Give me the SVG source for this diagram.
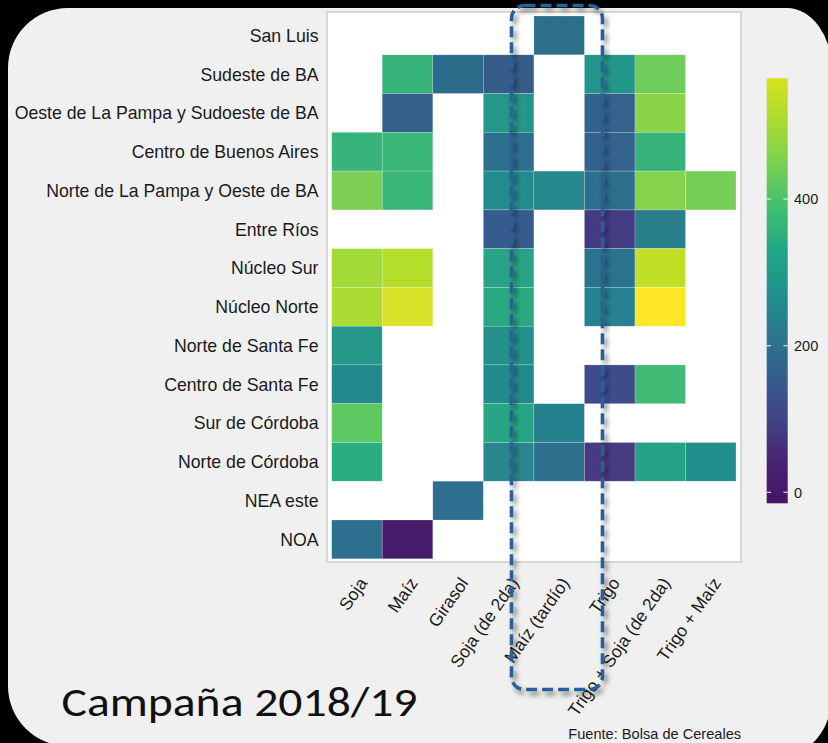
<svg xmlns="http://www.w3.org/2000/svg" width="828" height="743" viewBox="0 0 828 743">
<defs>
<style>
.ylab{font-family:"Liberation Sans",Arial,sans-serif;font-size:17.7px;fill:#1a1a1a;text-anchor:end}
.xlab{font-family:"Liberation Sans",Arial,sans-serif;font-size:17.5px;fill:#1a1a1a;text-anchor:end}
.cb{font-family:"Liberation Sans",Arial,sans-serif;font-size:14.5px;fill:#1a1a1a}
.t{stroke:#ffffff;stroke-opacity:0.35;stroke-width:0.6}
.tick{stroke:#ffffff;stroke-width:1.2;stroke-opacity:0.8}
</style>
<linearGradient id="vir" x1="0" y1="1" x2="0" y2="0">
<stop offset="0" stop-color="#471365"/>
<stop offset="0.1" stop-color="#482475"/>
<stop offset="0.2" stop-color="#414487"/>
<stop offset="0.3" stop-color="#355f8d"/>
<stop offset="0.4" stop-color="#2a788e"/>
<stop offset="0.5" stop-color="#21918c"/>
<stop offset="0.6" stop-color="#22a884"/>
<stop offset="0.7" stop-color="#44bf70"/>
<stop offset="0.8" stop-color="#7ad151"/>
<stop offset="0.9" stop-color="#a9db33"/>
<stop offset="1" stop-color="#d6e21c"/>
</linearGradient>
<filter id="shadow" x="-20%" y="-5%" width="140%" height="110%">
<feDropShadow dx="3" dy="4" stdDeviation="2.5" flood-color="#000000" flood-opacity="0.5"/>
</filter>
</defs>
<rect x="0" y="0" width="828" height="743" fill="#000000"/>
<path d="M8,68 A60,60 0 0 1 68,8 L787,8 A45,62 0 0 1 832,70 L831,700 A60,60 0 0 1 771,760 L68,746 A60,60 0 0 1 8,686 Z" fill="#f0f0f0"/>
<g id="panel">
<rect x="327" y="12" width="414" height="550" fill="#ffffff" stroke="#cccccc" stroke-width="1.5"/>
</g>
<g id="tiles">
<rect class="t" x="533.9" y="16" width="50.5" height="38.8" fill="#2d6f8a"/>
<rect class="t" x="382.2" y="54.8" width="50.6" height="38.7" fill="#37b47b"/>
<rect class="t" x="432.8" y="54.8" width="50.5" height="38.7" fill="#2d6b8b"/>
<rect class="t" x="483.3" y="54.8" width="50.6" height="38.7" fill="#355c89"/>
<rect class="t" x="584.4" y="54.8" width="50.6" height="38.7" fill="#23968a"/>
<rect class="t" x="635" y="54.8" width="50.5" height="38.7" fill="#6ecd5a"/>
<rect class="t" x="382.2" y="93.5" width="50.6" height="38.8" fill="#336189"/>
<rect class="t" x="483.3" y="93.5" width="50.6" height="38.8" fill="#25968a"/>
<rect class="t" x="584.4" y="93.5" width="50.6" height="38.8" fill="#33628d"/>
<rect class="t" x="635" y="93.5" width="50.5" height="38.8" fill="#8ad347"/>
<rect class="t" x="331.7" y="132.3" width="50.5" height="38.8" fill="#37b47b"/>
<rect class="t" x="382.2" y="132.3" width="50.6" height="38.8" fill="#3bb679"/>
<rect class="t" x="483.3" y="132.3" width="50.6" height="38.8" fill="#2d708e"/>
<rect class="t" x="584.4" y="132.3" width="50.6" height="38.8" fill="#33628d"/>
<rect class="t" x="635" y="132.3" width="50.5" height="38.8" fill="#37b47b"/>
<rect class="t" x="331.7" y="171.1" width="50.5" height="38.8" fill="#7ccf53"/>
<rect class="t" x="382.2" y="171.1" width="50.6" height="38.8" fill="#3ab67a"/>
<rect class="t" x="483.3" y="171.1" width="50.6" height="38.8" fill="#238b8d"/>
<rect class="t" x="533.9" y="171.1" width="50.5" height="38.8" fill="#26888c"/>
<rect class="t" x="584.4" y="171.1" width="50.6" height="38.8" fill="#2c6e8e"/>
<rect class="t" x="635" y="171.1" width="50.5" height="38.8" fill="#85d24c"/>
<rect class="t" x="685.5" y="171.1" width="50.5" height="38.8" fill="#76ce55"/>
<rect class="t" x="483.3" y="209.9" width="50.6" height="38.7" fill="#365c8d"/>
<rect class="t" x="584.4" y="209.9" width="50.6" height="38.7" fill="#443c82"/>
<rect class="t" x="635" y="209.9" width="50.5" height="38.7" fill="#297f8c"/>
<rect class="t" x="331.7" y="248.6" width="50.5" height="38.8" fill="#a2da37"/>
<rect class="t" x="382.2" y="248.6" width="50.6" height="38.8" fill="#b4de2c"/>
<rect class="t" x="483.3" y="248.6" width="50.6" height="38.8" fill="#29a386"/>
<rect class="t" x="584.4" y="248.6" width="50.6" height="38.8" fill="#2b738e"/>
<rect class="t" x="635" y="248.6" width="50.5" height="38.8" fill="#c1df24"/>
<rect class="t" x="331.7" y="287.4" width="50.5" height="38.8" fill="#a9db33"/>
<rect class="t" x="382.2" y="287.4" width="50.6" height="38.8" fill="#d8e22a"/>
<rect class="t" x="483.3" y="287.4" width="50.6" height="38.8" fill="#2aa883"/>
<rect class="t" x="584.4" y="287.4" width="50.6" height="38.8" fill="#26828e"/>
<rect class="t" x="635" y="287.4" width="50.5" height="38.8" fill="#fde725"/>
<rect class="t" x="331.7" y="326.2" width="50.5" height="38.7" fill="#26998a"/>
<rect class="t" x="483.3" y="326.2" width="50.6" height="38.7" fill="#23908b"/>
<rect class="t" x="331.7" y="364.9" width="50.5" height="38.8" fill="#22898d"/>
<rect class="t" x="483.3" y="364.9" width="50.6" height="38.8" fill="#22898d"/>
<rect class="t" x="584.4" y="364.9" width="50.6" height="38.8" fill="#3d4d8a"/>
<rect class="t" x="635" y="364.9" width="50.5" height="38.8" fill="#40bb76"/>
<rect class="t" x="331.7" y="403.7" width="50.5" height="38.8" fill="#5ec962"/>
<rect class="t" x="483.3" y="403.7" width="50.6" height="38.8" fill="#27a685"/>
<rect class="t" x="533.9" y="403.7" width="50.5" height="38.8" fill="#26818e"/>
<rect class="t" x="331.7" y="442.5" width="50.5" height="38.7" fill="#2aad81"/>
<rect class="t" x="483.3" y="442.5" width="50.6" height="38.7" fill="#29858e"/>
<rect class="t" x="533.9" y="442.5" width="50.5" height="38.7" fill="#2e718e"/>
<rect class="t" x="584.4" y="442.5" width="50.6" height="38.7" fill="#463b80"/>
<rect class="t" x="635" y="442.5" width="50.5" height="38.7" fill="#25a186"/>
<rect class="t" x="685.5" y="442.5" width="50.5" height="38.7" fill="#228e8c"/>
<rect class="t" x="432.8" y="481.2" width="50.5" height="38.8" fill="#2e6e8e"/>
<rect class="t" x="331.7" y="520" width="50.5" height="38.8" fill="#2d6f8e"/>
<rect class="t" x="382.2" y="520" width="50.6" height="38.8" fill="#471c6a"/>
</g>
<g id="y-labels">
<text class="ylab" x="318.5" y="41.7">San Luis</text>
<text class="ylab" x="318.5" y="80.5">Sudeste de BA</text>
<text class="ylab" x="318.5" y="119.2">Oeste de La Pampa y Sudoeste de BA</text>
<text class="ylab" x="318.5" y="158">Centro de Buenos Aires</text>
<text class="ylab" x="318.5" y="196.8">Norte de La Pampa y Oeste de BA</text>
<text class="ylab" x="318.5" y="235.5">Entre Ríos</text>
<text class="ylab" x="318.5" y="274.3">Núcleo Sur</text>
<text class="ylab" x="318.5" y="313.1">Núcleo Norte</text>
<text class="ylab" x="318.5" y="351.8">Norte de Santa Fe</text>
<text class="ylab" x="318.5" y="390.6">Centro de Santa Fe</text>
<text class="ylab" x="318.5" y="429.4">Sur de Córdoba</text>
<text class="ylab" x="318.5" y="468.2">Norte de Córdoba</text>
<text class="ylab" x="318.5" y="506.9">NEA este</text>
<text class="ylab" x="318.5" y="545.7">NOA</text>
</g>
<g id="x-labels">
<text class="xlab" transform="translate(368,583) rotate(-55)">Soja</text>
<text class="xlab" transform="translate(418.5,583) rotate(-55)">Maíz</text>
<text class="xlab" transform="translate(469,583) rotate(-55)">Girasol</text>
<text class="xlab" transform="translate(519.6,583) rotate(-55)">Soja (de 2da)</text>
<text class="xlab" transform="translate(570.1,583) rotate(-55)">Maíz (tardío)</text>
<text class="xlab" transform="translate(620.7,583) rotate(-55)">Trigo</text>
<text class="xlab" transform="translate(671.2,583) rotate(-55)">Trigo + Soja (de 2da)</text>
<text class="xlab" transform="translate(721.8,583) rotate(-55)">Trigo + Maíz</text>
</g>
<g id="colorbar">
<rect x="766.7" y="78.3" width="21" height="425" fill="url(#vir)"/>
<line class="tick" x1="766.7" y1="199" x2="771" y2="199"/>
<line class="tick" x1="783.4" y1="199" x2="787.7" y2="199"/>
<line class="tick" x1="766.7" y1="345.7" x2="771" y2="345.7"/>
<line class="tick" x1="783.4" y1="345.7" x2="787.7" y2="345.7"/>
<line class="tick" x1="766.7" y1="492.3" x2="771" y2="492.3"/>
<line class="tick" x1="783.4" y1="492.3" x2="787.7" y2="492.3"/>
<text class="cb" x="794" y="204.2">400</text>
<text class="cb" x="794" y="350.9">200</text>
<text class="cb" x="794" y="497.5">0</text>
</g>
<g id="highlight">
<rect x="511.5" y="5.5" width="91" height="684" rx="13" ry="13" fill="none" stroke="#2a5f98" stroke-width="3.6" stroke-dasharray="11 5" filter="url(#shadow)"/>
</g>
<g id="captions">
<text x="61.5" y="716" font-family="Carlito, Calibri, Lato, 'Open Sans', sans-serif" font-size="40" fill="#111111" textLength="356" lengthAdjust="spacingAndGlyphs">Campaña 2018/19</text>
<text x="568.3" y="738.5" font-family="'Liberation Sans', Arial, sans-serif" font-size="14.6" fill="#1a1a1a">Fuente: Bolsa de Cereales</text>
</g>
</svg>
